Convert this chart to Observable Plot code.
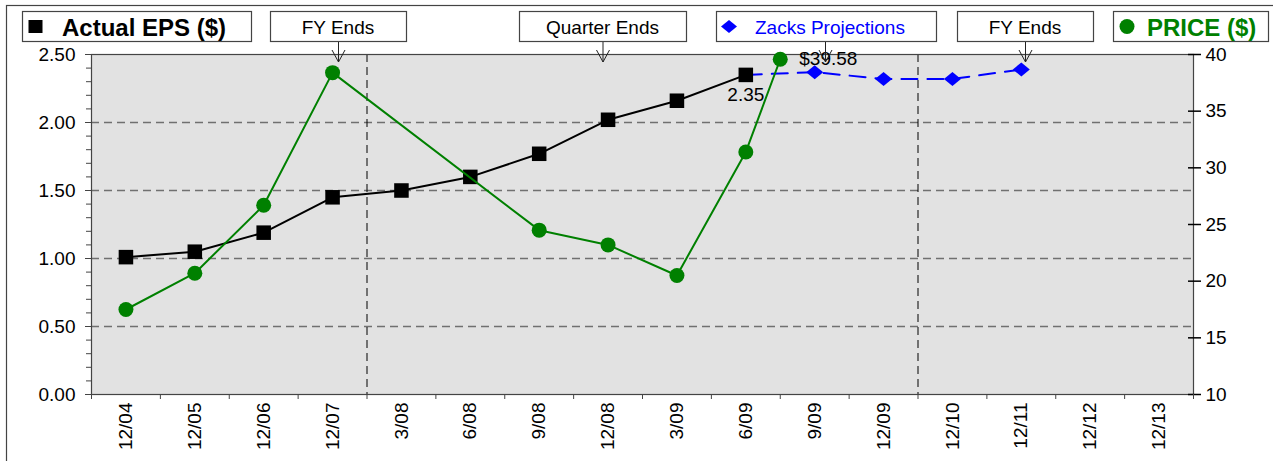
<!DOCTYPE html>
<html>
<head>
<meta charset="utf-8">
<script src="https://cdn.jsdelivr.net/npm/d3@7"></script>
<script src="https://cdn.jsdelivr.net/npm/@observablehq/plot@0.6"></script>
<style>
  html, body { margin: 0; padding: 0; background: #fff; }
  #chart { width: 1273px; height: 461px; overflow: hidden; }
  svg text { font-family: "Liberation Sans", Arial, sans-serif; }
</style>
</head>
<body>
<div id="chart"></div>
<script>
// ---------------- data ----------------
const categories = ["12/04","12/05","12/06","12/07","3/08","6/08","9/08","12/08","3/09","6/09","9/09","12/09","12/10","12/11","12/12","12/13"];
const actualCats = ["12/04","12/05","12/06","12/07","3/08","6/08","9/08","12/08","3/09","6/09"];
const actualEPS  = [1.01, 1.05, 1.19, 1.45, 1.50, 1.60, 1.77, 2.02, 2.16, 2.35];
const projCats   = ["6/09","9/09","12/09","12/10","12/11"];
const projEPS    = [2.35, 2.37, 2.32, 2.32, 2.39];
const priceCats  = ["12/04","12/05","12/06","12/07","9/08","12/08","3/09","6/09"];
const priceVals  = [17.5, 20.7, 26.7, 38.4, 24.5, 23.2, 20.5, 31.4];
const currentPrice = 39.58;          // plotted half a quarter after 6/09
const currentAfter = "6/09";
const epsTicks   = [0, 0.5, 1, 1.5, 2, 2.5];
const gridTicks  = [0.5, 1, 1.5, 2];
const priceTicks = [10, 15, 20, 25, 30, 35, 40];
const priceDomain = [10, 40];
const epsDomain = [0, 2.5];
const fyEndAfter = ["12/07", "12/09"];   // dashed vertical separators after these
const legendLabels = ["Actual EPS ($)", "FY Ends", "Quarter Ends", "Zacks Projections", "FY Ends", "PRICE ($)"];

// ---------------- helpers ----------------
const idx = c => categories.indexOf(c);
const toEps = p => (p - priceDomain[0]) / (priceDomain[1] - priceDomain[0]) * (epsDomain[1] - epsDomain[0]) + epsDomain[0];
const fromEps = e => (e - epsDomain[0]) / (epsDomain[1] - epsDomain[0]) * (priceDomain[1] - priceDomain[0]) + priceDomain[0];

const actual = actualCats.map((c, i) => ({x: idx(c), y: actualEPS[i]}));
const proj = projCats.map((c, i) => ({x: idx(c), y: projEPS[i]}));
const price = priceCats.map((c, i) => ({x: idx(c), y: toEps(priceVals[i])}));
const current = {x: idx(currentAfter) + 0.5, y: toEps(currentPrice)};
const priceLine = [...price, current];

const labelIdx = categories.map((c, i) => i);
const boundaryIdx = categories.map((c, i) => i - 0.5).concat([categories.length - 0.5]);
const minorTicks = d3.range(0, 26).map(k => k / 10);

const diamond = {
  draw(ctx, size) {
    const r = Math.sqrt(size / Math.PI);
    ctx.moveTo(0, -r * 0.82); ctx.lineTo(r, 0); ctx.lineTo(0, r * 0.82); ctx.lineTo(-r, 0); ctx.closePath();
  }
};

const FONT = "Liberation Sans, Arial, sans-serif";
const AX = "#444";

const svg = Plot.plot({
  width: 1273,
  height: 461,
  marginLeft: 91,
  marginRight: 80,
  marginTop: 54,
  marginBottom: 67,
  style: {fontFamily: FONT, fontSize: "19px", background: "#fff", overflow: "visible"},
  x: {type: "linear", domain: [-0.5, categories.length - 0.5]},
  y: {domain: epsDomain},
  marks: [
    Plot.frame({fill: "#e2e2e2", stroke: null}),
    Plot.ruleY(gridTicks, {stroke: "#707070", strokeWidth: 1.6, strokeDasharray: "8,5"}),
    Plot.ruleX(fyEndAfter.map(c => idx(c) + 0.5), {stroke: "#000", strokeWidth: 1, strokeDasharray: "8,5"}),
    Plot.frame({stroke: AX, strokeWidth: 1.2}),
    // left axis
    Plot.axisY(minorTicks, {anchor: "left", tickSize: 5, tickFormat: () => "", stroke: AX, label: null}),
    Plot.axisY(epsTicks, {anchor: "left", tickSize: 6, tickPadding: 10, tickFormat: d => d.toFixed(2), stroke: AX, fill: "#000", fontSize: 19, label: null}),
    // right axis (price)
    Plot.axisY(priceTicks.map(toEps), {anchor: "right", tickSize: 13, dx: -6, tickFormat: () => "", stroke: "#000", strokeWidth: 1.5, label: null}),
    Plot.axisY(priceTicks.map(toEps), {anchor: "right", tickSize: 0, tickPadding: 12, tickFormat: e => String(Math.round(fromEps(e))), fill: "#000", fontSize: 19, label: null}),
    // bottom axis
    Plot.axisX(boundaryIdx, {anchor: "bottom", tickSize: 5, tickFormat: () => "", stroke: AX, label: null}),
    Plot.axisX(labelIdx, {anchor: "bottom", tickSize: 0, tickPadding: 8, tickRotate: -90, tickFormat: i => categories[i], fill: "#000", fontSize: 19, label: null}),
    // actual EPS
    Plot.line(actual, {x: "x", y: "y", stroke: "#000", strokeWidth: 2}),
    // projections
    Plot.line(proj, {x: "x", y: "y", stroke: "#0000ff", strokeWidth: 2, strokeDasharray: "16,10"}),
    Plot.dot(proj.slice(1), {x: "x", y: "y", symbol: diamond, r: 8.5, fill: "#0000ff", stroke: null}),
    Plot.dot(actual, {x: "x", y: "y", symbol: "square", r: 8.2, fill: "#000", stroke: null}),
    // price
    Plot.line(priceLine, {x: "x", y: "y", stroke: "#008000", strokeWidth: 2}),
    Plot.dot(priceLine, {x: "x", y: "y", r: 7.5, fill: "#008000", stroke: null}),
    // value labels
    Plot.text([actual[actual.length - 1]], {x: "x", y: "y", text: d => d.y.toFixed(2), dy: 20, fontSize: 19, fill: "#000"}),
    Plot.text([current], {x: "x", y: "y", text: () => "$" + currentPrice.toFixed(2), dx: 19, dy: 0, textAnchor: "start", fontSize: 19, fill: "#000"})
  ]
});

// ---------------- legend boxes / annotations ----------------
const s = d3.select(svg);
s.append("rect").attr("x", 6.5).attr("y", 5.5).attr("width", 1400).attr("height", 600)
  .attr("fill", "none").attr("stroke", "#444").attr("stroke-width", 1.2);

const boxes = [
  {x1: 22, x2: 251, bold: true, color: "#000", symbol: "square", textX: 62},
  {x1: 270, x2: 406, color: "#000", arrow: 338},
  {x1: 519, x2: 686, color: "#000", arrow: 602.5},
  {x1: 716, x2: 936, color: "#0000ff", symbol: "diamond", textX: 755, arrow: 825},
  {x1: 957, x2: 1093, color: "#000", arrow: 1025},
  {x1: 1113, x2: 1268, bold: true, color: "#008000", symbol: "circle", textX: 1147}
];
const by1 = 11, by2 = 41, tipY = 62;
const g = s.append("g");
boxes.forEach((b, i) => {
  g.append("rect").attr("x", b.x1 + 0.5).attr("y", by1 + 0.5).attr("width", b.x2 - b.x1).attr("height", by2 - by1)
    .attr("fill", "#fff").attr("stroke", "#444").attr("stroke-width", 1.2);
  const t = g.append("text").attr("y", (by1 + by2) / 2 + 1).attr("dy", "0.36em")
    .attr("font-family", FONT).attr("fill", b.color)
    .attr("font-size", b.bold ? 24 : 19).attr("font-weight", b.bold ? "bold" : "normal")
    .text(legendLabels[i]);
  if (b.textX != null) t.attr("x", b.textX).attr("text-anchor", "start");
  else t.attr("x", (b.x1 + b.x2) / 2).attr("text-anchor", "middle");
  const cy = (by1 + by2) / 2 + 0.5;
  if (b.symbol === "square") g.append("rect").attr("x", 28.5).attr("y", cy - 6.5).attr("width", 14).attr("height", 13).attr("fill", b.color);
  if (b.symbol === "diamond") g.append("path").attr("d", `M729,${cy - 6.5}L737,${cy}L729,${cy + 6.5}L721,${cy}Z`).attr("fill", b.color);
  if (b.symbol === "circle") g.append("circle").attr("cx", 1127).attr("cy", cy).attr("r", 7.5).attr("fill", b.color);
  if (b.arrow != null) {
    const ax = b.arrow + 0.5;
    g.append("path").attr("d", `M${ax},${by2 + 1}V${tipY}M${ax - 6.5},${tipY - 12}L${ax},${tipY}L${ax + 6.5},${tipY - 12}`)
      .attr("fill", "none").attr("stroke", "#222").attr("stroke-width", 1);
  }
});

document.getElementById("chart").appendChild(svg);
</script>
</body>
</html>
